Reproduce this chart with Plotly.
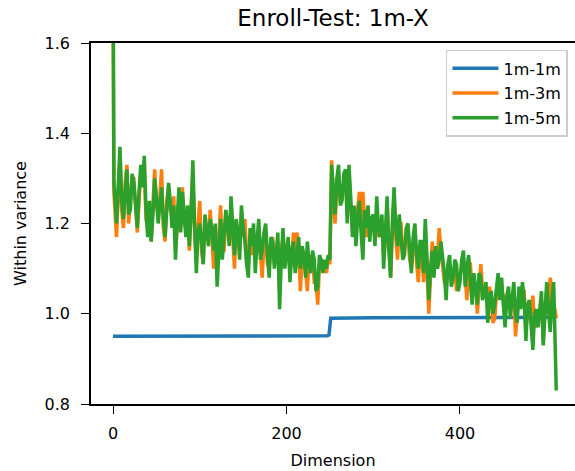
import plotly.graph_objects as go

# ---- data ----
dims_noisy = [0, 1] + list(range(4, 509, 2)) + [511]

within_1m_5m = [1.78, 1.29,
    1.20, 1.30, 1.37, 1.25, 1.21, 1.27, 1.32, 1.22, 1.23, 1.31, 1.29, 1.24, 1.19, 1.27, 1.33, 1.28, 1.35, 1.23, 1.17, 1.25,
    1.16, 1.22, 1.30, 1.26, 1.20, 1.24, 1.28, 1.21, 1.17, 1.23, 1.29, 1.25, 1.19, 1.24, 1.12, 1.21, 1.28, 1.18, 1.27, 1.22,
    1.17, 1.24, 1.15, 1.22, 1.34, 1.20, 1.09, 1.18, 1.20, 1.16, 1.11, 1.22, 1.19, 1.15, 1.21, 1.19, 1.14, 1.20, 1.06, 1.15,
    1.21, 1.12, 1.17, 1.23, 1.20, 1.15, 1.26, 1.18, 1.13, 1.21, 1.18, 1.12, 1.24, 1.19, 1.16, 1.11, 1.08, 1.19, 1.15, 1.20,
    1.09, 1.16, 1.21, 1.12, 1.14, 1.18, 1.20, 1.13, 1.08, 1.17, 1.16, 1.10, 1.13, 1.18, 1.01, 1.12, 1.19, 1.10, 1.13, 1.17,
    1.07, 1.14, 1.16, 1.09, 1.12, 1.17, 1.10, 1.15, 1.13, 1.08, 1.16, 1.11, 1.09, 1.14, 1.12, 1.05, 1.06, 1.13, 1.12, 1.09,
    1.12, 1.10, 1.13, 1.12, 1.33, 1.27, 1.22, 1.30, 1.33, 1.24, 1.25, 1.31, 1.32, 1.20, 1.33, 1.26, 1.17, 1.24, 1.15, 1.21,
    1.25, 1.18, 1.12, 1.23, 1.19, 1.24, 1.16, 1.21, 1.22, 1.15, 1.26, 1.19, 1.17, 1.22, 1.10, 1.18, 1.26, 1.14, 1.08, 1.20,
    1.28, 1.19, 1.15, 1.22, 1.18, 1.12, 1.13, 1.19, 1.20, 1.14, 1.09, 1.17, 1.20, 1.13, 1.10, 1.16, 1.16, 1.09, 1.21, 1.12,
    1.03, 1.10, 1.14, 1.08, 1.15, 1.10, 1.12, 1.16, 1.13, 1.09, 1.03, 1.11, 1.13, 1.06, 1.08, 1.12, 1.11, 1.05, 1.07, 1.12,
    1.14, 1.06, 1.10, 1.13, 1.07, 1.02, 1.09, 1.05, 1.02, 1.09, 1.08, 1.03, 1.05, 1.07, 0.98, 1.04, 1.05, 1.00, 1.02, 1.06,
    1.09, 1.03, 1.08, 1.02, 0.97, 1.04, 1.06, 0.99, 1.04, 1.07, 1.00, 0.98, 1.06, 1.01, 1.07, 1.03, 0.94, 1.02, 1.03, 0.98,
    0.92, 1.00, 1.01, 0.97, 1.02, 1.05, 0.93, 0.99, 1.07, 1.01, 0.96, 1.03, 1.07,
    0.83]

within_1m_3m = [1.74, 1.27,
    1.17, 1.28, 1.35, 1.23, 1.19, 1.29, 1.33, 1.20, 1.25, 1.30, 1.30, 1.22, 1.18, 1.25, 1.31, 1.30, 1.33, 1.21, 1.19, 1.23,
    1.16, 1.24, 1.32, 1.24, 1.22, 1.26, 1.32, 1.19, 1.16, 1.25, 1.28, 1.23, 1.22, 1.26, 1.14, 1.19, 1.26, 1.20, 1.28, 1.20,
    1.19, 1.22, 1.14, 1.24, 1.31, 1.18, 1.12, 1.20, 1.25, 1.14, 1.11, 1.20, 1.17, 1.17, 1.23, 1.17, 1.10, 1.18, 1.10, 1.17,
    1.24, 1.14, 1.14, 1.21, 1.19, 1.17, 1.24, 1.16, 1.10, 1.19, 1.17, 1.14, 1.22, 1.17, 1.21, 1.13, 1.11, 1.17, 1.13, 1.18,
    1.12, 1.14, 1.19, 1.14, 1.08, 1.16, 1.18, 1.11, 1.10, 1.15, 1.17, 1.12, 1.12, 1.16, 1.05, 1.14, 1.17, 1.12, 1.15, 1.15,
    1.09, 1.12, 1.18, 1.11, 1.18, 1.15, 1.05, 1.13, 1.12, 1.10, 1.05, 1.13, 1.11, 1.12, 1.07, 1.07, 1.02, 1.11, 1.10, 1.10,
    1.11, 1.09, 1.12, 1.11, 1.34, 1.25, 1.20, 1.28, 1.31, 1.26, 1.26, 1.29, 1.31, 1.22, 1.31, 1.24, 1.19, 1.22, 1.18, 1.23,
    1.27, 1.20, 1.27, 1.21, 1.17, 1.22, 1.18, 1.19, 1.20, 1.17, 1.23, 1.17, 1.19, 1.20, 1.13, 1.16, 1.24, 1.16, 1.08, 1.18,
    1.26, 1.17, 1.12, 1.20, 1.20, 1.14, 1.15, 1.17, 1.17, 1.12, 1.10, 1.15, 1.18, 1.11, 1.07, 1.14, 1.14, 1.07, 1.19, 1.10,
    1.00, 1.08, 1.16, 1.10, 1.13, 1.12, 1.19, 1.14, 1.10, 1.07, 1.06, 1.09, 1.11, 1.08, 1.09, 1.10, 1.05, 1.07, 1.09, 1.10,
    1.12, 1.08, 1.03, 1.11, 1.11, 1.04, 1.06, 1.07, 1.00, 1.07, 1.11, 1.05, 1.06, 1.05, 1.01, 1.06, 1.03, 0.98, 0.99, 1.04,
    1.07, 1.05, 1.05, 1.04, 1.00, 1.02, 1.04, 1.01, 1.02, 1.05, 0.95, 1.00, 1.04, 1.03, 1.05, 1.05, 0.97, 1.00, 1.02, 1.00,
    1.04, 0.98, 0.97, 0.99, 0.99, 1.03, 0.94, 1.01, 1.05, 1.00, 1.08, 1.05, 1.03,
    0.99]

dims_flat = [0, 240, 247, 249, 251, 300, 400, 511]
within_1m_1m = [0.950, 0.950, 0.951, 0.953, 0.990, 0.991, 0.992, 0.992]

series_names = ["1m-1m", "1m-3m", "1m-5m"]
series_colors = ["#1f77b4", "#ff7f0e", "#2ca02c"]

y_ticks = [0.8, 1.0, 1.2, 1.4, 1.6]
x_ticks = [0, 200, 400]

FONT = "DejaVu Sans"
W, H = 575, 471

fig = go.Figure()
series = [(dims_flat, within_1m_1m), (dims_noisy, within_1m_3m), (dims_noisy, within_1m_5m)]
for (xs, ys), name, color in zip(series, series_names, series_colors):
    fig.add_trace(go.Scatter(
        x=xs, y=ys, mode="lines", name=name, legendgroup=name,
        line=dict(color=color, width=3.5),
    ))

fig.update_layout(
    width=W, height=H,
    margin=dict(l=91, r=0, t=43, b=67),
    paper_bgcolor="white", plot_bgcolor="white",
    font=dict(family=FONT, size=16, color="black"),
    title=dict(text="Enroll-Test: 1m-X", x=0.5, xref="paper",
               y=1 - 18 / H, yref="container", yanchor="middle",
               xanchor="center", font=dict(size=23)),
    showlegend=True,
    legend=dict(x=0.9855, y=0.981, xanchor="right", yanchor="top",
                bgcolor="rgba(255,255,255,0.8)", bordercolor="#cccccc",
                borderwidth=1.5, font=dict(size=16), traceorder="grouped",
                tracegroupgap=1, itemwidth=46),
)
fig.update_xaxes(
    range=[-25.4, 532.6], tickvals=x_ticks, ticks="outside", ticklen=8,
    tickwidth=1.4, tickcolor="black", showline=True, linecolor="black",
    linewidth=1.6, mirror=True, showgrid=False, zeroline=False,
    ticklabelstandoff=6,
    title=dict(text="Dimension", standoff=13, font=dict(size=16)),
)
fig.update_yaxes(
    range=[0.8, 1.6], tickvals=y_ticks, tickformat=".1f", ticks="outside",
    ticklen=8, tickwidth=1.4, tickcolor="black", showline=True,
    linecolor="black", linewidth=1.6, showgrid=False, zeroline=False,
    ticklabelstandoff=8,
    title=dict(text="Within variance", standoff=14, font=dict(size=16)),
)

# remove the default page margin so the figure fills the window exactly
fig.write_html("out.html",
               config={"displayModeBar": False},
               post_script="document.body.style.margin='0';"
                           "document.body.style.overflow='hidden';")
